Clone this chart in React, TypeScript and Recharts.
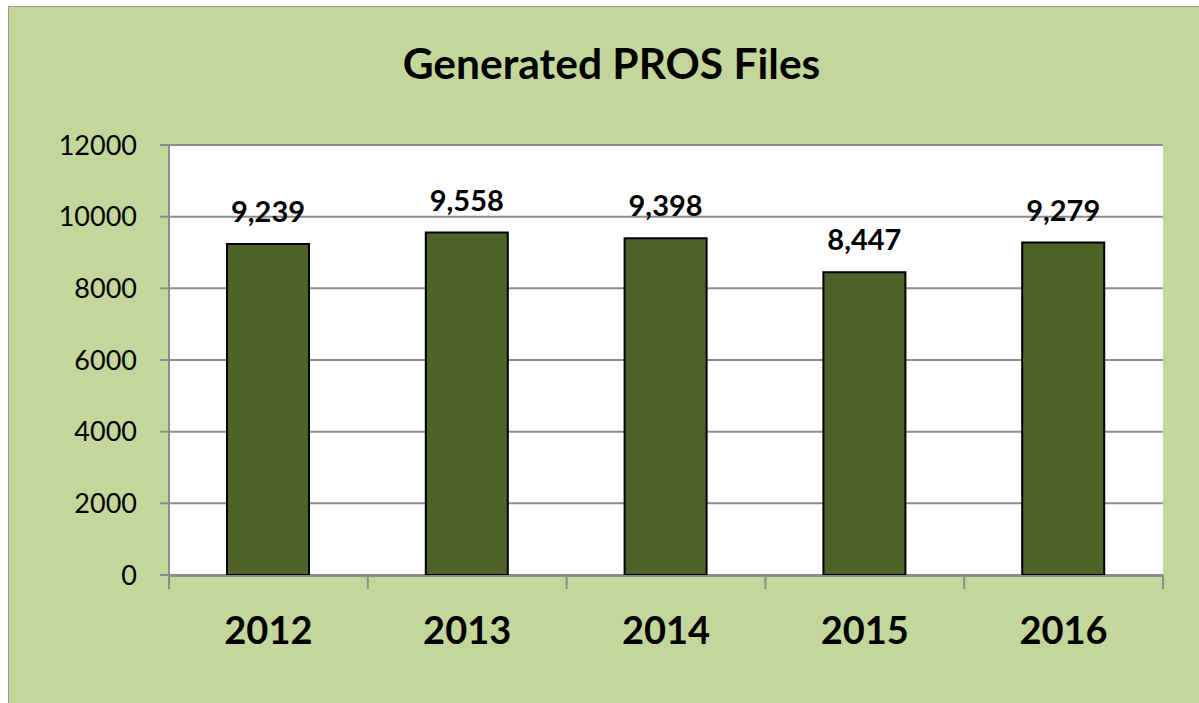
import React from 'react';
import { BarChart, Bar, XAxis, YAxis, CartesianGrid, LabelList } from 'recharts';

const years = ['2012', '2013', '2014', '2015', '2016'];
const generatedFiles = [9239, 9558, 9398, 8447, 9279];
const yTicks = [0, 2000, 4000, 6000, 8000, 10000, 12000];
const edgeTicks = [0, 1, 2, 3, 4, 5];

const data = years.map((year, i) => ({ year, files: generatedFiles[i], pos: i + 0.5 }));

const FONT = 'Lato, "Open Sans", sans-serif';
const GRID = '#8c8c8c';

const EmptyTick = () => <g />;

const App = () => {
  return (
    <div style={{ position: 'absolute', left: 0, top: 0, width: 1199, height: 703, background: '#fff', overflow: 'hidden' }}>
      <div
        style={{
          position: 'absolute',
          left: 8,
          top: 6,
          width: 1220,
          height: 720,
          background: '#c4d79b',
          border: '1px solid #999',
        }}
      />
      <div
        style={{
          position: 'absolute',
          left: 0,
          top: 42,
          width: 1223,
          textAlign: 'center',
          fontFamily: FONT,
          fontWeight: 700,
          fontSize: 42.5,
          lineHeight: 1,
          color: '#000',
        }}
      >
        Generated PROS Files
      </div>
      <div style={{ position: 'absolute', left: 0, top: 0 }}>
        <BarChart
          width={1199}
          height={703}
          data={data}
          margin={{ top: 145, right: 36, left: 0, bottom: 48 }}
          style={{ fontFamily: FONT }}
        >
          <CartesianGrid xAxisId="b_cat" vertical={false} stroke={GRID} strokeWidth={2} fill="#fff" />
          <XAxis
            xAxisId="a_edge"
            type="number"
            dataKey="pos"
            domain={[0, 5]}
            ticks={edgeTicks}
            interval={0}
            tick={<EmptyTick />}
            tickSize={14}
            tickLine={{ stroke: GRID, strokeWidth: 2 }}
            axisLine={false}
            height={1}
          />
          <XAxis
            xAxisId="b_cat"
            dataKey="year"
            height={79}
            tickLine={false}
            tickSize={0}
            tickMargin={41}
            axisLine={{ stroke: GRID, strokeWidth: 2 }}
            tick={{ fill: '#000', fontSize: 38, fontWeight: 700 }}
          />
          <YAxis
            width={169}
            domain={[0, 12000]}
            ticks={yTicks}
            tickSize={9}
            tickMargin={23}
            tickLine={{ stroke: GRID, strokeWidth: 2 }}
            axisLine={{ stroke: GRID, strokeWidth: 2 }}
            tick={{ fill: '#000', fontSize: 27 }}
          />
          <Bar
            xAxisId="b_cat"
            dataKey="files"
            fill="#4f6228"
            stroke="#000"
            strokeWidth={2}
            barSize={82}
            isAnimationActive={false}
          >
            <LabelList
              dataKey="files"
              position="top"
              offset={22}
              formatter={(v: any) => Number(v).toLocaleString('en-US')}
              style={{ fill: '#000', fontSize: 29, fontWeight: 700 }}
            />
          </Bar>
        </BarChart>
      </div>
    </div>
  );
};

export default App;
